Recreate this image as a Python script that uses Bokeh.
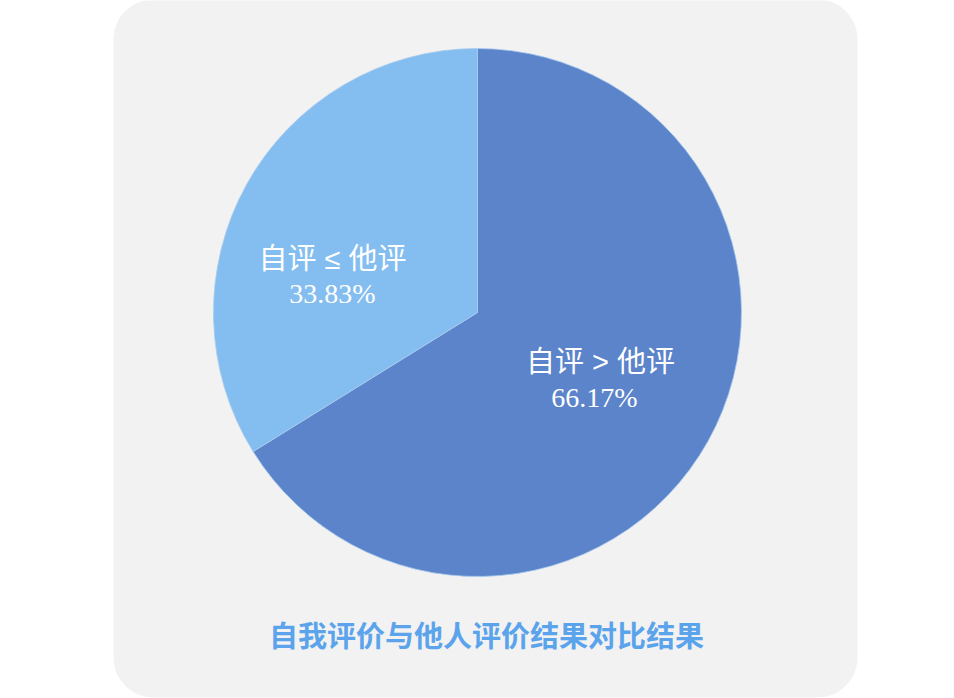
import numpy as np
from bokeh.plotting import figure
from bokeh.models import Range1d, ColumnDataSource
from bokeh.core.properties import value
from bokeh.embed import file_html
from bokeh.resources import INLINE

# ---- data ----
categories = ["自评 > 他评", "自评 ≤ 他评"]
percents = [66.17, 33.83]
pct_labels = ["66.17%", "33.83%"]
colors = ["#5b84ca", "#84bdef"]
title_text = "自我评价与他人评价结果对比结果"

# ---- layout (pixel-like data space, y up) ----
W, H = 954, 698
cx, cy, R = 477, 386, 264

p = figure(width=W, height=H, x_range=Range1d(0, W), y_range=Range1d(0, H),
           output_backend="svg", toolbar_location=None, min_border=0,
           background_fill_color="white", border_fill_color="white")
p.outline_line_color = None
p.axis.visible = False
p.grid.visible = False

# rounded background panel
x0, x1, y0, y1, rr = 113, 857, 1, 699, 40
t = np.linspace(0, np.pi / 2, 20)
xs = np.concatenate([x1 - rr + rr * np.cos(t), x0 + rr - rr * np.sin(t),
                     x0 + rr - rr * np.cos(t), x1 - rr + rr * np.sin(t)])
ys = np.concatenate([y1 - rr + rr * np.sin(t), y1 - rr + rr * np.cos(t),
                     y0 + rr - rr * np.sin(t), y0 + rr - rr * np.cos(t)])
p.patch(xs, ys, fill_color="#f2f2f2", line_color=None)

# pie: first slice clockwise from 12 o'clock
fr = np.array(percents) / sum(percents)
ends_cw = np.cumsum(fr) * 2 * np.pi
starts_cw = ends_cw - fr * 2 * np.pi
start_angles = np.pi / 2 - ends_cw
end_angles = np.pi / 2 - starts_cw
src = ColumnDataSource(dict(start=start_angles, end=end_angles, color=colors, cat=categories))
p.wedge(x=cx, y=cy, radius=R, start_angle="start", end_angle="end",
        fill_color="color", line_color="#a9cbee", line_width=0.8, source=src)

# label placement (angle offset, radius fraction) per slice
mid = (start_angles + end_angles) / 2
ang_off = np.array([0.0, np.radians(14.8)])
rad_frac = np.array([0.52, 0.567])
la = mid + ang_off
lx = cx + R * rad_frac * np.cos(la)
ly = cy + R * rad_frac * np.sin(la)
p.text(x=lx + np.array([3, 0]), y=ly + 17, text=categories, text_align="center",
       text_baseline="middle", text_color="white",
       text_font=value("Liberation Sans, Noto Sans CJK SC"), text_font_size="29px")
p.text(x=lx - np.array([3, 0]), y=ly - 18, text=pct_labels, text_align="center",
       text_baseline="middle", text_color="white",
       text_font=value("Liberation Serif"), text_font_size="28px")

# title
p.text(x=[486], y=[65], text=[title_text], text_align="center", text_baseline="middle",
       text_color="#5ba4ec", text_font=value("Noto Sans CJK SC"), text_font_style="bold",
       text_font_size="29px")

open("out.html", "w").write(file_html(p, INLINE))
